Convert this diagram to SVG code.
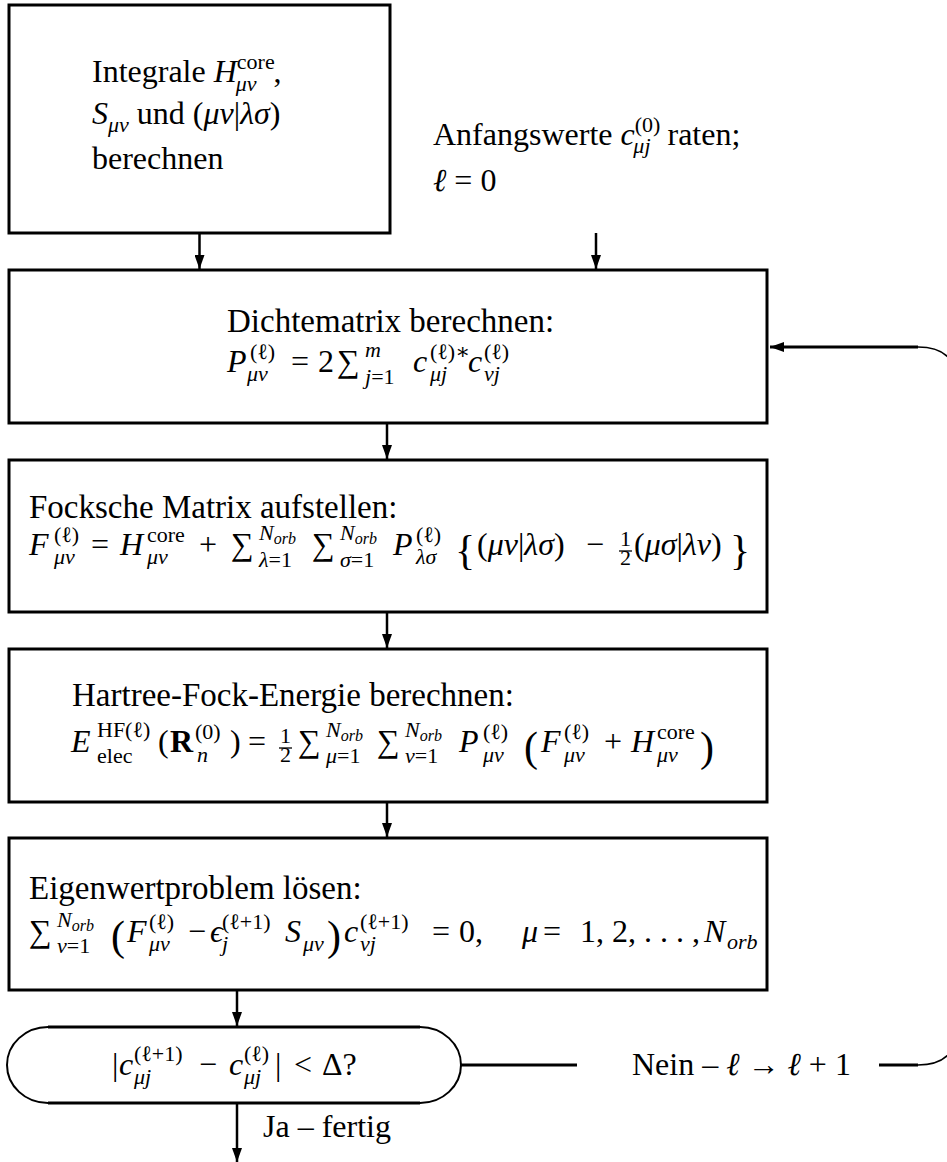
<svg xmlns="http://www.w3.org/2000/svg" width="947" height="1162" viewBox="0 0 947 1162">
<style>
.t{font-family:"Liberation Serif","DejaVu Serif",serif;font-size:32px;fill:#000}
.l{font-size:33px}
.i{font-style:italic}
.s{font-size:22px}
.ss{font-size:16px}
.b{font-weight:bold}
.big{font-size:42px}
.box{fill:#fff;stroke:#000;stroke-width:3}
.conn{fill:none;stroke:#000;stroke-width:2.5}
.thin{fill:none;stroke:#000;stroke-width:1.5}
.bar{stroke:#000;stroke-width:1.3}
</style>
<defs>
<marker id="ah" markerUnits="userSpaceOnUse" markerWidth="14" markerHeight="10" refX="14" refY="5" orient="auto">
<path d="M0,0 L14,5 L0,10 z" fill="#000"/>
</marker>
</defs>
<rect width="947" height="1162" fill="#fff"/>

<g id="connectors">
<path class="conn" d="M199.5,234 V269" marker-end="url(#ah)"/>
<path class="conn" d="M596,233 V269" marker-end="url(#ah)"/>
<path class="conn" d="M387,424 V459" marker-end="url(#ah)"/>
<path class="conn" d="M387,613 V648" marker-end="url(#ah)"/>
<path class="conn" d="M387,803 V837" marker-end="url(#ah)"/>
<path class="conn" d="M237,991 V1026" marker-end="url(#ah)"/>
<path class="conn" d="M237,1104 V1162" marker-end="url(#ah)"/>
<path class="conn" d="M461,1065 H577" style="stroke-width:3"/>
<path class="conn" d="M879,1065 H918" style="stroke-width:3"/>
<path class="thin" d="M918,1065 Q958,1065 958,1025 V387 Q958,347 918,347"/>
<path class="conn" d="M918,347 H770" style="stroke-width:3" marker-end="url(#ah)"/>
</g>

<g id="integrale">
<rect class="box" x="9" y="5" width="381" height="228"/>
<text class="t" x="92" y="82">Integrale <tspan class="i">H</tspan><tspan class="s" dy="-13">core</tspan><tspan class="s i" dx="-39" dy="22">μν</tspan><tspan dx="17" dy="-9">,</tspan></text>
<text class="t" x="92" y="124"><tspan class="i">S</tspan><tspan class="s i" dy="8">μν</tspan><tspan dy="-8"> und (</tspan><tspan class="i">μν</tspan>|<tspan class="i">λσ</tspan>)</text>
<text class="t" x="92" y="169">berechnen</text>
</g>

<g id="anfangswerte">
<text class="t" x="433" y="145">Anfangswerte <tspan class="i">c</tspan><tspan class="s" dy="-13">(0)</tspan><tspan class="s i" dx="-27" dy="21">μj</tspan><tspan dx="9" dy="-8"> raten;</tspan></text>
<text class="t" x="433" y="191"><tspan class="i">ℓ</tspan> = 0</text>
</g>

<g id="dichtematrix">
<rect class="box" x="9" y="270" width="758" height="153"/>
<text class="t l" x="227" y="332">Dichtematrix berechnen:</text>
<text class="t"><tspan class="i" x="227" y="372">P</tspan><tspan class="s" x="250" y="359">(ℓ)</tspan><tspan class="s i" x="247" y="381">μν</tspan><tspan x="291" y="372">=</tspan><tspan x="318" y="372">2</tspan><tspan x="337" y="372">∑</tspan><tspan class="s i" x="365" y="357">m</tspan><tspan class="s" x="365" y="384"><tspan class="i">j</tspan>=1</tspan><tspan class="i" x="413" y="372">c</tspan><tspan class="s" x="430" y="359">(ℓ)∗</tspan><tspan class="s i" x="430" y="381">μj</tspan><tspan class="i" x="468" y="372">c</tspan><tspan class="s" x="484" y="359">(ℓ)</tspan><tspan class="s i" x="484" y="381">νj</tspan></text>
</g>

<g id="fock">
<rect class="box" x="9" y="460" width="758" height="152"/>
<text class="t l" x="29" y="518">Focksche Matrix aufstellen:</text>
<text class="t"><tspan class="i" x="29" y="555">F</tspan><tspan class="s" x="54" y="542">(ℓ)</tspan><tspan class="s i" x="54" y="564">μν</tspan><tspan x="91" y="555">=</tspan><tspan class="i" x="120" y="555">H</tspan><tspan class="s" x="147" y="542">core</tspan><tspan class="s i" x="147" y="564">μν</tspan><tspan x="199" y="555">+</tspan><tspan x="231" y="555">∑</tspan><tspan class="s i" x="259" y="540">N</tspan><tspan class="ss i" y="544">orb</tspan><tspan class="s" x="259" y="567"><tspan class="i">λ</tspan>=1</tspan><tspan x="312" y="555">∑</tspan><tspan class="s i" x="340" y="540">N</tspan><tspan class="ss i" y="544">orb</tspan><tspan class="s" x="340" y="567"><tspan class="i">σ</tspan>=1</tspan><tspan class="i" x="393" y="555">P</tspan><tspan class="s" x="416" y="542">(ℓ)</tspan><tspan class="s i" x="416" y="564">λσ</tspan><tspan class="big" x="455" y="564">{</tspan><tspan x="477" y="555">(</tspan><tspan class="i">μν</tspan><tspan>|</tspan><tspan class="i">λσ</tspan><tspan>)</tspan><tspan x="586" y="555">−</tspan><tspan class="s" x="620" y="546">1</tspan><tspan class="s" x="620" y="565">2</tspan><tspan x="634" y="555">(</tspan><tspan class="i">μσ</tspan><tspan>|</tspan><tspan class="i">λν</tspan><tspan>)</tspan><tspan class="big" x="730" y="564">}</tspan></text>
<line class="bar" x1="619" y1="551" x2="632" y2="551"/>
</g>

<g id="hartree">
<rect class="box" x="9" y="649" width="758" height="153"/>
<text class="t l" x="72" y="706">Hartree-Fock-Energie berechnen:</text>
<text class="t"><tspan class="i" x="71" y="752">E</tspan><tspan class="s" x="97" y="737">HF(ℓ)</tspan><tspan class="s" x="97" y="763">elec</tspan><tspan x="158" y="752">(</tspan><tspan class="b" x="170" y="752">R</tspan><tspan class="s" x="195" y="739">(0)</tspan><tspan class="s i" x="197" y="762">n</tspan><tspan x="230" y="752">)</tspan><tspan x="248" y="752">=</tspan><tspan class="s" x="280" y="743">1</tspan><tspan class="s" x="280" y="762">2</tspan><tspan x="298" y="752">∑</tspan><tspan class="s i" x="326" y="737">N</tspan><tspan class="ss i" y="741">orb</tspan><tspan class="s" x="326" y="763"><tspan class="i">μ</tspan>=1</tspan><tspan x="377" y="752">∑</tspan><tspan class="s i" x="405" y="737">N</tspan><tspan class="ss i" y="741">orb</tspan><tspan class="s" x="405" y="763"><tspan class="i">ν</tspan>=1</tspan><tspan class="i" x="459" y="752">P</tspan><tspan class="s" x="483" y="739">(ℓ)</tspan><tspan class="s i" x="483" y="762">μν</tspan><tspan class="big" x="524" y="761">(</tspan><tspan class="i" x="541" y="752">F</tspan><tspan class="s" x="564" y="739">(ℓ)</tspan><tspan class="s i" x="564" y="762">μν</tspan><tspan x="604" y="752">+</tspan><tspan class="i" x="631" y="752">H</tspan><tspan class="s" x="657" y="739">core</tspan><tspan class="s i" x="657" y="762">μν</tspan><tspan class="big" x="700" y="761">)</tspan></text>
<line class="bar" x1="279" y1="748" x2="292" y2="748"/>
</g>

<g id="eigenwert">
<rect class="box" x="9" y="838" width="758" height="152"/>
<text class="t l" x="29" y="899">Eigenwertproblem lösen:</text>
<text class="t"><tspan x="29" y="942">∑</tspan><tspan class="s i" x="57" y="927">N</tspan><tspan class="ss i" y="931">orb</tspan><tspan class="s" x="57" y="953"><tspan class="i">ν</tspan>=1</tspan><tspan class="big" x="111" y="950">(</tspan><tspan class="i" x="127" y="942">F</tspan><tspan class="s" x="149" y="929">(ℓ)</tspan><tspan class="s i" x="149" y="951">μν</tspan><tspan x="188" y="942">−</tspan><tspan class="i" x="210" y="942">ϵ</tspan><tspan class="s" x="222" y="929">(ℓ+1)</tspan><tspan class="s i" x="222" y="951">j</tspan><tspan class="i" x="285" y="942">S</tspan><tspan class="s i" x="303" y="951">μν</tspan><tspan class="big" x="327" y="950">)</tspan><tspan class="i" x="344" y="942">c</tspan><tspan class="s" x="360" y="929">(ℓ+1)</tspan><tspan class="s i" x="360" y="951">νj</tspan><tspan x="432" y="942">=</tspan><tspan x="459" y="942">0,</tspan><tspan class="i" x="522" y="942">μ</tspan><tspan x="543" y="942">=</tspan><tspan x="580" y="942">1, 2, . . . ,</tspan><tspan class="i" x="704" y="942">N</tspan><tspan class="s i" x="727" y="949">orb</tspan></text>
</g>

<g id="konvergenz">
<path d="M48,1027 H420 A41,38 0 0 1 420,1103 H48 A41,38 0 0 1 48,1027 z" fill="#fff"/>
<path d="M48,1027 H420 M48,1103 H420" fill="none" stroke="#000" stroke-width="3"/>
<path d="M48,1027 A41,38 0 0 0 48,1103 M420,1027 A41,38 0 0 1 420,1103" fill="none" stroke="#000" stroke-width="2"/>
<text class="t"><tspan x="112" y="1075">|</tspan><tspan class="i" x="119" y="1075">c</tspan><tspan class="s" x="134" y="1061">(ℓ+1)</tspan><tspan class="s i" x="134" y="1084">μj</tspan><tspan x="199" y="1075">−</tspan><tspan class="i" x="229" y="1075">c</tspan><tspan class="s" x="244" y="1061">(ℓ)</tspan><tspan class="s i" x="244" y="1084">μj</tspan><tspan x="275" y="1075">|</tspan><tspan x="294" y="1075">&lt;</tspan><tspan x="322" y="1075">Δ?</tspan></text>
</g>

<g id="nein">
<text class="t" x="632" y="1075">Nein – <tspan class="i">ℓ</tspan> → <tspan class="i">ℓ</tspan> + 1</text>
</g>

<g id="ja">
<text class="t" x="263" y="1137">Ja – fertig</text>
</g>
</svg>
